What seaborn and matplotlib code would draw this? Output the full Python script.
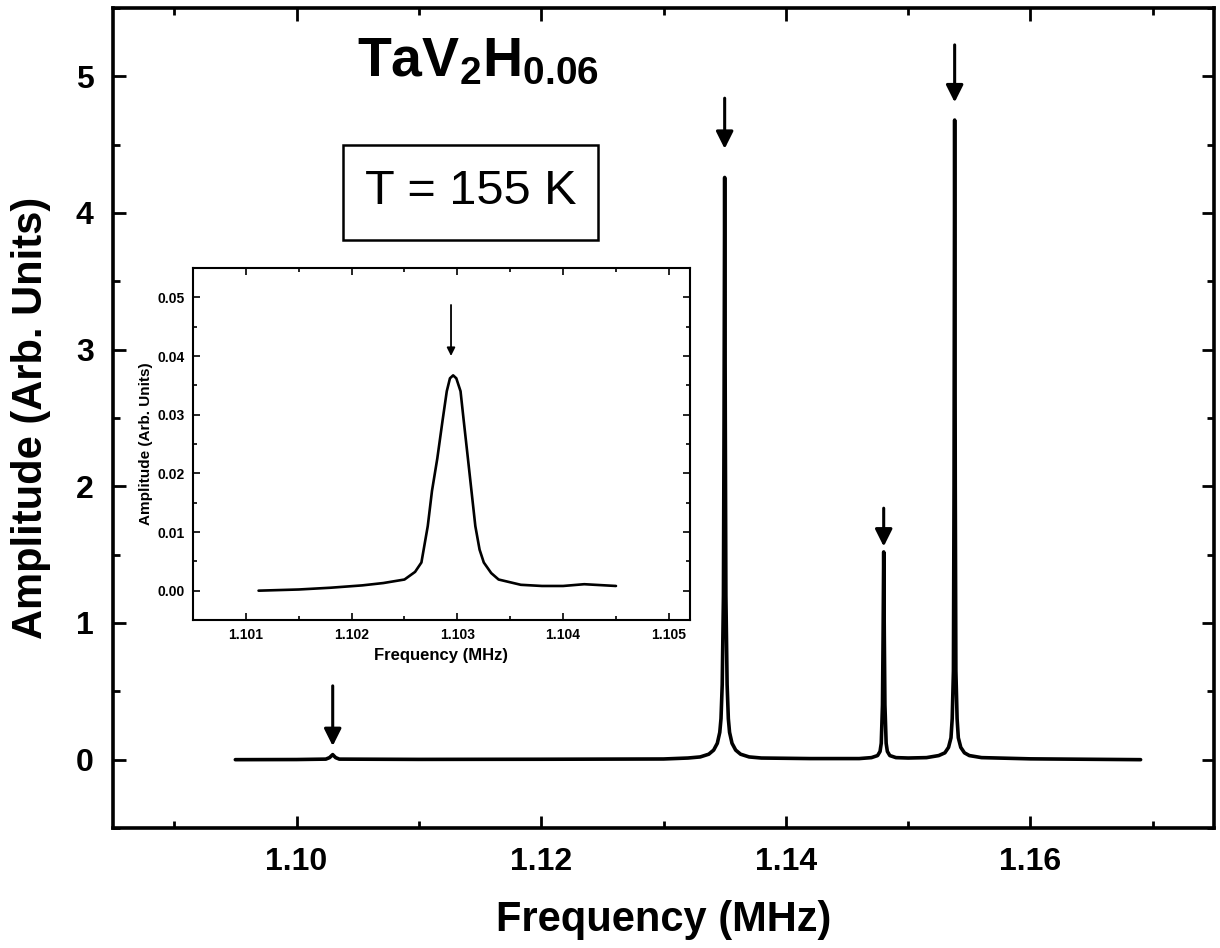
import matplotlib
matplotlib.use("Agg")
import matplotlib.pyplot as plt
import seaborn as sns
import pandas as pd
from matplotlib.patches import Rectangle
from matplotlib.ticker import MultipleLocator

sns.set_theme(style="ticks")
plt.rcParams['font.family'] = ['Liberation Sans', 'DejaVu Sans']
plt.rcParams['mathtext.fontset'] = 'custom'
plt.rcParams['mathtext.rm'] = 'Liberation Sans'
plt.rcParams['mathtext.bf'] = 'Liberation Sans:bold'
for k in ['text.color', 'axes.labelcolor', 'xtick.color', 'ytick.color', 'axes.edgecolor']:
    plt.rcParams[k] = 'black'

# ---- main spectrum ----
freq = [1.0950, 1.1000, 1.1024, 1.1027, 1.1029, 1.10296, 1.1030, 1.1032, 1.1035, 1.1100,
        1.1200, 1.1300, 1.1320, 1.1330, 1.1337, 1.1341, 1.1344, 1.1346, 1.1347, 1.1348,
        1.1349, 1.13495, 1.1350, 1.13505, 1.1351, 1.1352, 1.1353, 1.1354, 1.1356, 1.1359,
        1.1363, 1.1370, 1.1380, 1.1420, 1.1460, 1.1470, 1.1475, 1.1477, 1.1478, 1.1479,
        1.14795, 1.1480, 1.14805, 1.1481, 1.1482, 1.1483, 1.1485, 1.1490, 1.1500, 1.1515,
        1.1525, 1.1530, 1.1533, 1.1535, 1.1536, 1.1537, 1.15375, 1.1538, 1.15385, 1.1539,
        1.1540, 1.1541, 1.1543, 1.1546, 1.1550, 1.1560, 1.1600, 1.1690]
amp = [0.000, 0.001, 0.004, 0.015, 0.032, 0.037, 0.033, 0.015, 0.004, 0.002,
       0.003, 0.005, 0.012, 0.020, 0.040, 0.070, 0.120, 0.200, 0.300, 0.550,
       1.200, 2.500, 4.260, 2.500, 1.200, 0.550, 0.300, 0.200, 0.120, 0.070,
       0.040, 0.020, 0.012, 0.008, 0.008, 0.015, 0.030, 0.060, 0.120, 0.400,
       0.900, 1.520, 0.900, 0.400, 0.120, 0.060, 0.030, 0.015, 0.012, 0.015,
       0.030, 0.050, 0.090, 0.160, 0.300, 0.650, 2.000, 4.680, 2.000, 0.650,
       0.300, 0.160, 0.090, 0.050, 0.030, 0.015, 0.006, 0.000]

# arrows marking the lines
arrow_x = [1.10296, 1.1350, 1.1480, 1.1538]
arrow_tail = [0.54, 4.84, 1.84, 5.23]
arrow_tip = [0.10, 4.47, 1.56, 4.81]

# ---- inset spectrum ----
in_freq = [1.10112, 1.1015, 1.1018, 1.1021, 1.1023, 1.1025, 1.10260, 1.10266, 1.10272,
           1.10276, 1.10281, 1.10286, 1.10290, 1.10293, 1.10296, 1.10299, 1.10303,
           1.10306, 1.10310, 1.10317, 1.10321, 1.10325, 1.10332, 1.10339, 1.1036,
           1.1038, 1.1040, 1.1042, 1.1043, 1.1045]
in_amp = [0.0000, 0.0002, 0.0005, 0.0009, 0.0013, 0.0019, 0.0032, 0.0048, 0.0110,
          0.0170, 0.0225, 0.0290, 0.0340, 0.0362, 0.0367, 0.0362, 0.0340,
          0.0290, 0.0225, 0.0110, 0.0070, 0.0048, 0.0030, 0.0019, 0.0010,
          0.0008, 0.0008, 0.0011, 0.0010, 0.0008]
in_arrow_x = [1.10294]
in_arrow_tail = [0.0487]
in_arrow_tip = [0.0400]

W, H = 1220, 948
fig = plt.figure(figsize=(W / 100, H / 100), dpi=100)

def fx(px):
    return px / W

def fy(py):
    return 1 - py / H

# main axes
ax = fig.add_axes([fx(113), fy(828), fx(1214) - fx(113), fy(8) - fy(828)])
df = pd.DataFrame({"Frequency (MHz)": freq, "Amplitude": amp})
sns.lineplot(data=df, x="Frequency (MHz)", y="Amplitude", ax=ax, color="black",
             lw=2.6, sort=False)
ax.set_xlim(1.085, 1.175)
ax.set_ylim(-0.5, 5.5)
ax.xaxis.set_major_locator(MultipleLocator(0.02))
ax.xaxis.set_minor_locator(MultipleLocator(0.01))
ax.yaxis.set_major_locator(MultipleLocator(1))
ax.yaxis.set_minor_locator(MultipleLocator(0.5))
ax.set_xticks([1.10, 1.12, 1.14, 1.16])
ax.set_xticklabels(["1.10", "1.12", "1.14", "1.16"])
ax.tick_params(which="both", direction="in", top=True, right=True, width=2.0,
               labelsize=23, pad=14)
ax.tick_params(which="major", length=9)
ax.tick_params(which="minor", length=5)
for lab in ax.get_xticklabels() + ax.get_yticklabels():
    lab.set_fontweight("bold")
for s in ax.spines.values():
    s.set_linewidth(2.6)
ax.set_xlabel("Frequency (MHz)", fontsize=30, fontweight="bold", labelpad=16)
ax.set_ylabel("Amplitude (Arb. Units)", fontsize=30, fontweight="bold", labelpad=18)

for xa, yt, yh in zip(arrow_x, arrow_tail, arrow_tip):
    ax.annotate("", xy=(xa, yh), xytext=(xa, yt),
                arrowprops=dict(arrowstyle="-|>", color="black", lw=2.2,
                                mutation_scale=26, shrinkA=0, shrinkB=0))

# title and temperature box
fig.text(fx(478), fy(62), r"$\mathbf{TaV_2H_{0.06}}$", fontsize=40, ha="center",
         va="center")
fig.patches.append(Rectangle((fx(343), fy(240)), fx(598) - fx(343), fy(145) - fy(240),
                             transform=fig.transFigure, fill=False, ec="black", lw=1.8))
fig.text(fx(471), fy(192), "T = 155 K", fontsize=35, ha="center", va="center")

# inset axes
ix = fig.add_axes([fx(193), fy(620), fx(690) - fx(193), fy(268) - fy(620)])
dfi = pd.DataFrame({"Frequency (MHz)": in_freq, "Amplitude": in_amp})
sns.lineplot(data=dfi, x="Frequency (MHz)", y="Amplitude", ax=ix, color="black",
             lw=1.9, sort=False)
ix.set_xlim(1.1005, 1.1052)
ix.set_ylim(-0.005, 0.055)
ix.xaxis.set_major_locator(MultipleLocator(0.001))
ix.xaxis.set_minor_locator(MultipleLocator(0.0005))
ix.yaxis.set_major_locator(MultipleLocator(0.01))
ix.yaxis.set_minor_locator(MultipleLocator(0.005))
ix.set_xticks([1.101, 1.102, 1.103, 1.104, 1.105])
ix.set_xticklabels(["1.101", "1.102", "1.103", "1.104", "1.105"])
ix.set_yticks([0.0, 0.01, 0.02, 0.03, 0.04, 0.05])
ix.set_yticklabels(["0.00", "0.01", "0.02", "0.03", "0.04", "0.05"])
ix.tick_params(which="both", direction="in", top=True, right=True, width=1.2,
               labelsize=10, pad=6)
ix.tick_params(which="major", length=5)
ix.tick_params(which="minor", length=3)
for lab in ix.get_xticklabels() + ix.get_yticklabels():
    lab.set_fontweight("bold")
for s in ix.spines.values():
    s.set_linewidth(1.5)
ix.set_xlabel("Frequency (MHz)", fontsize=12, fontweight="bold", labelpad=4)
ix.set_ylabel("Amplitude (Arb. Units)", fontsize=11, fontweight="bold", labelpad=3)
for xa, yt, yh in zip(in_arrow_x, in_arrow_tail, in_arrow_tip):
    ix.annotate("", xy=(xa, yh), xytext=(xa, yt),
                arrowprops=dict(arrowstyle="-|>", color="black", lw=1.3,
                                mutation_scale=12, shrinkA=0, shrinkB=0))

fig.savefig("out.png", dpi=100)
